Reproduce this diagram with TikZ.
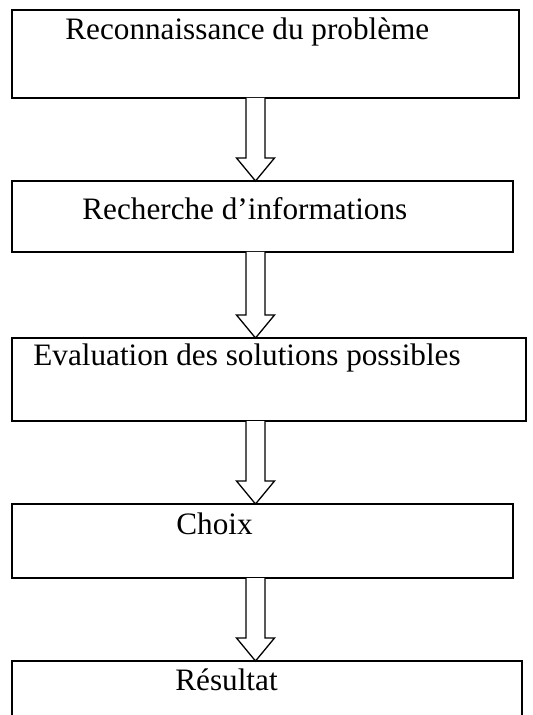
\documentclass[tikz,border=0pt]{standalone}
\usepackage{fontspec}
\setmainfont{Liberation Serif}
\usetikzlibrary{calc}

\begin{document}
\begin{tikzpicture}[
    x=0.5pt, y=-0.5pt,
    etape/.style={
        rectangle,
        draw=black,
        line width=1pt,
        anchor=north west,
        inner sep=0pt,
        outer sep=0pt
    },
    texte/.style={
        anchor=base west,
        inner sep=0pt,
        font=\fontsize{15.6}{18}\selectfont
    },
    fleche/.style={
        draw=black,
        line width=0.65pt,
        fill=white,
        line join=miter
    }
]

\clip (0,0) rectangle (532,715);

% Etapes du processus
\node[etape, minimum width=253.5pt, minimum height=44pt] (reco) at (12,10) {};
\node[etape, minimum width=250.5pt, minimum height=35.5pt] (recherche) at (12,181) {};
\node[etape, minimum width=257pt, minimum height=41.5pt] (evaluation) at (12,338) {};
\node[etape, minimum width=250.5pt, minimum height=37pt] (choix) at (12,504) {};
\node[etape, minimum width=255pt, minimum height=40pt] (resultat) at (12,661) {};

% Textes
\node[texte] (treco) at (65,40) {Reconnaissance du problème};
\node[texte] (trecherche) at (82,220) {Recherche d’informations};
\node[texte] (tevaluation) at (33,365) {Evaluation des solutions possibles};
\node[texte] (tchoix) at (176,534) {Choix};
\node[texte] (tresultat) at (175,690) {Résultat};

% Fleches
\coordinate (axe) at (255.5,0);
\draw[fleche] ($(reco.south -| axe)+(-9.5,0)$) -- ($(recherche.north -| axe)+(-9.5,-23)$)
    -- ($(recherche.north -| axe)+(-19,-23)$) -- (recherche.north -| axe)
    -- ($(recherche.north -| axe)+(19,-23)$) -- ($(recherche.north -| axe)+(9.5,-23)$)
    -- ($(reco.south -| axe)+(9.5,0)$);
\draw[fleche] ($(recherche.south -| axe)+(-9.5,0)$) -- ($(evaluation.north -| axe)+(-9.5,-23)$)
    -- ($(evaluation.north -| axe)+(-19,-23)$) -- (evaluation.north -| axe)
    -- ($(evaluation.north -| axe)+(19,-23)$) -- ($(evaluation.north -| axe)+(9.5,-23)$)
    -- ($(recherche.south -| axe)+(9.5,0)$);
\draw[fleche] ($(evaluation.south -| axe)+(-9.5,0)$) -- ($(choix.north -| axe)+(-9.5,-23)$)
    -- ($(choix.north -| axe)+(-19,-23)$) -- (choix.north -| axe)
    -- ($(choix.north -| axe)+(19,-23)$) -- ($(choix.north -| axe)+(9.5,-23)$)
    -- ($(evaluation.south -| axe)+(9.5,0)$);
\draw[fleche] ($(choix.south -| axe)+(-9.5,0)$) -- ($(resultat.north -| axe)+(-9.5,-23)$)
    -- ($(resultat.north -| axe)+(-19,-23)$) -- (resultat.north -| axe)
    -- ($(resultat.north -| axe)+(19,-23)$) -- ($(resultat.north -| axe)+(9.5,-23)$)
    -- ($(choix.south -| axe)+(9.5,0)$);

\end{tikzpicture}
\end{document}
